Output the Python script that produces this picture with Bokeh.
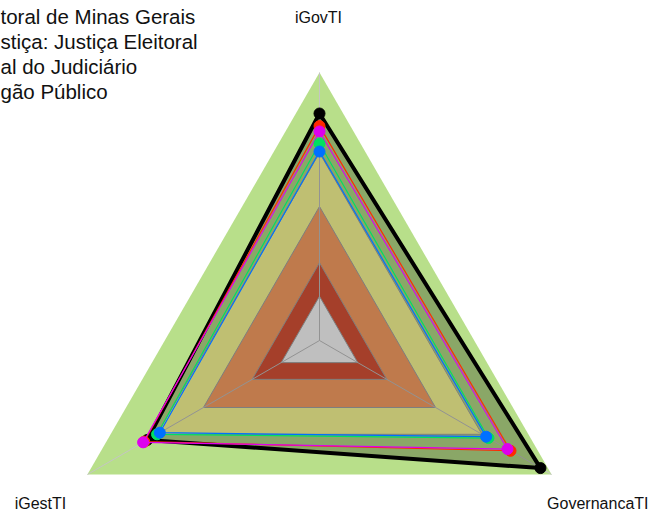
import numpy as np
from bokeh.plotting import figure
from bokeh.models import Range1d
from bokeh.embed import file_html
from bokeh.resources import INLINE
from bokeh.core.properties import value

# ---- data ----
axis_labels = ["iGovTI", "GovernancaTI", "iGestTI"]
axis_angles_deg = [90, -30, 210]

band_levels = [1.0, 0.70, 0.50, 0.29, 0.165]
band_colors = ["#b8df8a", "#ffff99", "#ffa366", "#dd5538", "#ffffff"]

black_vals = [0.847, 0.952, 0.742]
red_vals = [0.800, 0.823, 0.755]
magenta_vals = [0.780, 0.810, 0.760]
green_vals = [0.735, 0.728, 0.700]
blue_vals = [0.705, 0.718, 0.688]

legend_fragments = ["toral de Minas Gerais", "stiça: Justiça Eleitoral",
                    "al do Judiciário", "gão Público"]

# ---- layout ----
W, H = 650, 511
R = 268.0
CX, CY = 319.0, 340.0  # centre in pixels (from top-left)

p = figure(width=W, height=H, output_backend="svg", toolbar_location=None,
           x_range=Range1d(-CX / R, (W - CX) / R),
           y_range=Range1d((CY - H) / R, CY / R),
           min_border=0)
p.axis.visible = False
p.grid.visible = False
p.outline_line_color = None
p.background_fill_color = "white"

ang = np.radians(axis_angles_deg)


def poly(vals):
    v = np.asarray(vals, dtype=float)
    return list(v * np.cos(ang)), list(v * np.sin(ang))


# bands
for i, (lvl, col) in enumerate(zip(band_levels, band_colors)):
    xs, ys = poly([lvl] * 3)
    p.patch(xs, ys, fill_color=col,
            line_color=None if i == 0 else "#a8a8a8", line_width=1)

# spokes
for a in ang:
    p.line([0, np.cos(a)], [0, np.sin(a)], line_color="#c4c4c4", line_width=1)

# black series fill
bx, by = poly(black_vals)
p.patch(bx, by, fill_color="black", fill_alpha=0.25, line_color=None)

series = [
    (black_vals, "black", 4, 11),
    (red_vals, "#ff2a00", 1.2, 11),
    (magenta_vals, "#dd00ee", 1.2, 11),
    (green_vals, "#00e060", 1.2, 11),
    (blue_vals, "#0070ff", 1.2, 11),
]
for vals, col, lw, ms in series:
    xs, ys = poly(vals)
    p.line(xs + [xs[0]], ys + [ys[0]], line_color=col, line_width=lw, line_join="miter")
    p.scatter(xs, ys, size=ms, fill_color=col, line_color=col)

# axis labels (pixel anchor, alignment, baseline)
lab_px = [(318, 17, "center", "alphabetic"),
          (40, 511, "center", "bottom"),
          (648, 511, "right", "bottom")]
order = [0, 2, 1]
for (fx, fy, al, bl), idx in zip(lab_px, order):
    p.text([(fx - CX) / R], [(CY - fy) / R], text=[axis_labels[idx]],
           text_font=value("Liberation Sans"), text_font_size="16px",
           text_align=al, text_baseline=bl, text_color="#111111")

# legend fragments
for i, frag in enumerate(legend_fragments):
    fy = 16 + 25 * i
    p.text([(0 - CX) / R], [(CY - fy) / R], text=[frag],
           text_font=value("Liberation Sans"), text_font_size="20.5px",
           text_align="left", text_baseline="alphabetic", text_color="#111111")

open("out.html", "w").write(file_html(p, INLINE))
